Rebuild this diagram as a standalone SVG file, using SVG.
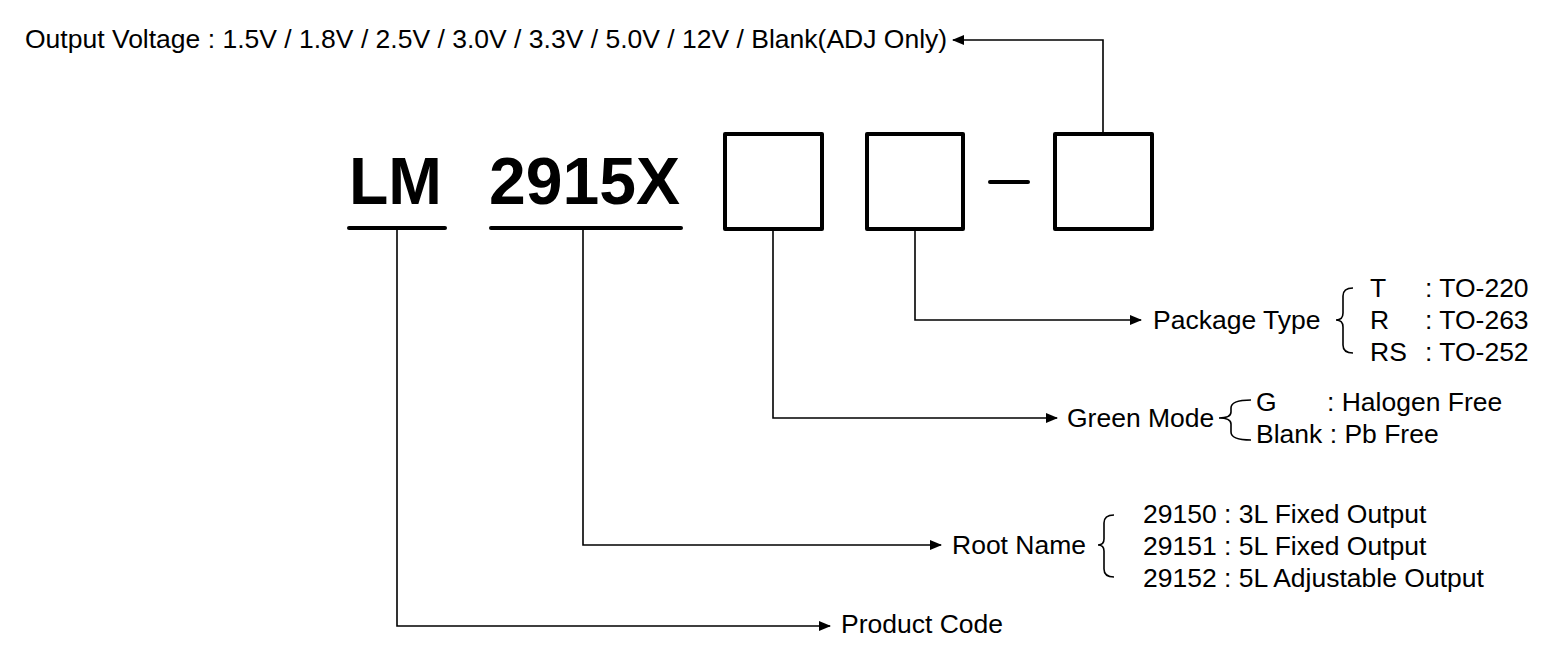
<svg xmlns="http://www.w3.org/2000/svg" width="1557" height="657" viewBox="0 0 1557 657">
<style>
text{font-family:"Liberation Sans",Arial,sans-serif;fill:#000;font-size:26.5px}
.big{font-size:66px;font-weight:bold}
.box{fill:#fff;stroke:#000;stroke-width:4;stroke-linejoin:round}
.ul{stroke:#000;stroke-width:4;stroke-linecap:round}
.c{fill:none;stroke:#000;stroke-width:1.6}
.br{fill:none;stroke:#000;stroke-width:1.6}
</style>
<defs>
<marker id="ah" markerWidth="12" markerHeight="10" refX="11" refY="5" orient="auto" markerUnits="userSpaceOnUse">
<path d="M0,0 L12,5 L0,10 Z" fill="#000"/>
</marker>
</defs>
<g id="title">
<text x="25" y="48">Output Voltage : 1.5V / 1.8V / 2.5V / 3.0V / 3.3V / 5.0V / 12V / Blank(ADJ Only)</text>
</g>
<g id="lm">
<text class="big" x="349" y="204" textLength="93" lengthAdjust="spacingAndGlyphs">LM</text>
<line class="ul" x1="349" y1="228" x2="445" y2="228"/>
</g>
<g id="root">
<text class="big" x="489" y="204" textLength="191" lengthAdjust="spacingAndGlyphs">2915X</text>
<line class="ul" x1="491" y1="228" x2="681" y2="228"/>
</g>
<g id="box1"><rect class="box" x="725" y="134" width="97" height="95"/></g>
<g id="box2"><rect class="box" x="867" y="134" width="96" height="95"/></g>
<g id="dash"><line class="ul" x1="990" y1="182" x2="1028" y2="182"/></g>
<g id="box3"><rect class="box" x="1055" y="134" width="97" height="95"/></g>
<g id="connectors">
<path class="c" d="M1103,132 V40 H953" marker-end="url(#ah)"/>
<path class="c" d="M915,230 V320 H1141" marker-end="url(#ah)"/>
<path class="c" d="M773,230 V418 H1057" marker-end="url(#ah)"/>
<path class="c" d="M583,230 V545 H941" marker-end="url(#ah)"/>
<path class="c" d="M397,230 V626 H830" marker-end="url(#ah)"/>
</g>
<g id="package">
<text x="1153" y="329">Package Type</text>
<path class="br" d="M1353,288 Q1343,288 1343,296 V313 Q1343,320 1336,320 Q1343,320 1343,327 V345 Q1343,353 1353,353"/>
<text x="1370" y="297">T</text><text x="1425" y="297">: TO-220</text>
<text x="1370" y="329">R</text><text x="1425" y="329">: TO-263</text>
<text x="1370" y="361">RS</text><text x="1425" y="361">: TO-252</text>
</g>
<g id="green">
<text x="1067" y="427">Green Mode</text>
<path class="br" d="M1251,400 Q1231,400 1231,408 V412 Q1231,418 1219,418 Q1231,418 1231,424 V432 Q1231,440 1251,440"/>
<text x="1256" y="411">G</text><text x="1327" y="411">: Halogen Free</text>
<text x="1256" y="443">Blank : Pb Free</text>
</g>
<g id="rootname">
<text x="952" y="554">Root Name</text>
<path class="br" d="M1114,515 Q1104,515 1104,523 V539 Q1104,545 1098,545 Q1104,545 1104,551 V569 Q1104,577 1114,577"/>
<text x="1143" y="523">29150 : 3L Fixed Output</text>
<text x="1143" y="555">29151 : 5L Fixed Output</text>
<text x="1143" y="587">29152 : 5L Adjustable Output</text>
</g>
<g id="product">
<text x="841" y="633">Product Code</text>
</g>
</svg>
